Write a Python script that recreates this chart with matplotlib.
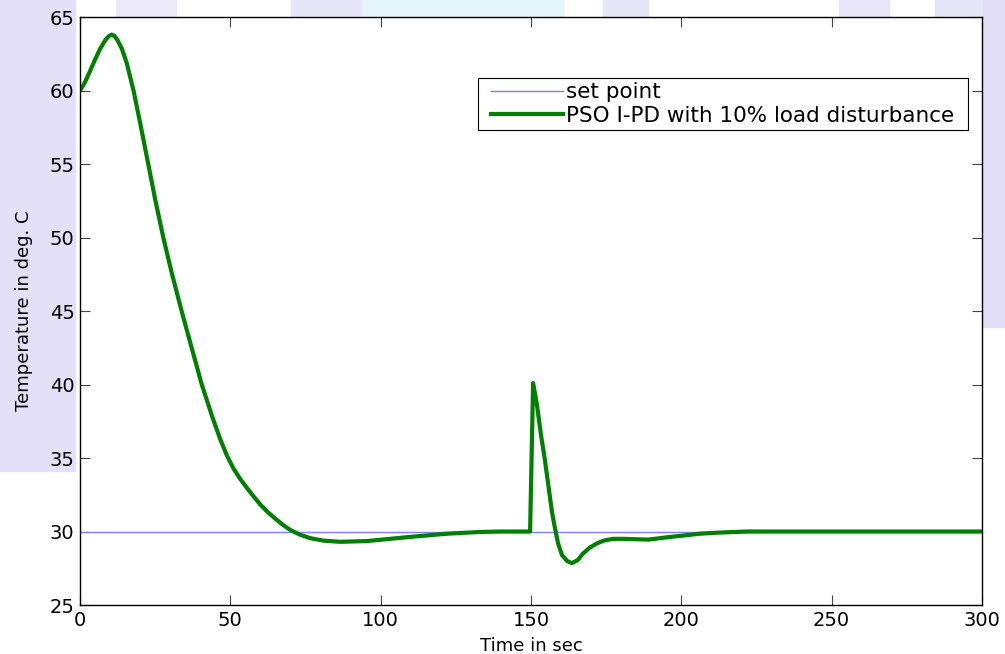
import matplotlib
matplotlib.use("Agg")
import matplotlib.pyplot as plt
from matplotlib.patches import Rectangle

time = [0, 1.5, 3.3, 5, 6.6, 8.5, 9.6, 10.5, 11.4, 12.4, 13.9, 15.5, 17.8, 20, 22.7,
        25, 27.7, 30.5, 33.8, 37, 40.5, 44, 46.6, 48.8, 51, 53.2, 55.4, 57.5, 59.9,
        62.3, 64.8, 67.5, 70, 73, 76.5, 81, 86.5, 95.4, 103, 110.7, 122, 133, 140,
        149.7, 150.7, 152, 153.3, 154.6, 156, 157, 158, 159, 160.3, 162, 163.6,
        165.5, 167.3, 169.5, 172, 174.5, 177.3, 181, 189, 195, 199.5, 206, 212.8,
        222, 300]
temp = [60.0, 60.5, 61.3, 62.1, 62.8, 63.45, 63.7, 63.8, 63.72, 63.45, 62.85, 61.9,
        60.0, 57.8, 55.0, 52.6, 50.0, 47.6, 45.0, 42.6, 40.0, 37.8, 36.3, 35.2,
        34.3, 33.6, 33.0, 32.45, 31.85, 31.35, 30.9, 30.45, 30.1, 29.8, 29.55,
        29.38, 29.3, 29.35, 29.5, 29.65, 29.85, 29.97, 30.0,
        30.0, 40.1, 38.6, 36.6, 34.9, 32.8, 31.3, 30.2, 29.2, 28.4, 28.0, 27.85,
        28.05, 28.5, 28.9, 29.2, 29.4, 29.5, 29.5, 29.45, 29.6, 29.7, 29.85, 29.93,
        30.0, 30.0]
setpoint_t = [0, 300]
setpoint = [30, 30]

xticks = [0, 50, 100, 150, 200, 250, 300]
yticks = [25, 30, 35, 40, 45, 50, 55, 60, 65]

plt.rcParams['font.family'] = ['DejaVu Sans']

fig = plt.figure(figsize=(10.05, 6.54), dpi=100)

# faint watermark bands behind the plot
bands = [(0, 0.28, 0.075, 0.72, '#e3e0f7'), (0.115, 0.974, 0.06, 0.026, '#eceaf9'),
         (0.29, 0.974, 0.07, 0.026, '#e6e4f7'), (0.36, 0.974, 0.2, 0.026, '#e3f5fa'),
         (0.6, 0.974, 0.045, 0.026, '#e6e4f7'), (0.835, 0.974, 0.05, 0.026, '#e8e6f8'),
         (0.93, 0.974, 0.05, 0.026, '#e6e4f7'), (0.978, 0.5, 0.022, 0.5, '#e0ddf5')]
for x0, y0, w, h, c in bands:
    fig.patches.append(Rectangle((x0, y0), w, h, transform=fig.transFigure,
                                 color=c, zorder=0))

ax = fig.add_axes([0.0796, 0.0749, 0.8975, 0.8991])
ax.set_zorder(2)
ax.plot(setpoint_t, setpoint, color='#7f7fff', linewidth=1.0, label='set point')
ax.plot(time, temp, color='#008000', linewidth=3.0,
        label='PSO I-PD with 10% load disturbance')

ax.set_xlim(0, 300)
ax.set_ylim(25, 65)
ax.set_xticks(xticks)
ax.set_yticks(yticks)
ax.tick_params(direction='in', length=7, width=0.8, top=True, right=True,
               labelsize=14, pad=4, color='#444444')
for s in ax.spines.values():
    s.set_linewidth(1.0)

ax.set_xlabel('Time in sec', fontsize=13, labelpad=5)
ax.set_ylabel('Temperature in deg. C', fontsize=13, labelpad=12)

leg = ax.legend(loc='upper right', bbox_to_anchor=(0.9743, 0.896), borderaxespad=0,
                fontsize=15.5, frameon=False,
                handlelength=3.35, handletextpad=0.15, labelspacing=0.15,
                borderpad=0.2)

# matlab style legend box: wider padding left/right than top/bottom
fig.canvas.draw()
bb = leg.get_window_extent().transformed(fig.transFigure.inverted())
padx = 9 / 1005
box = Rectangle((bb.x0 - padx, bb.y0), bb.width + 2 * padx, bb.height,
                transform=fig.transFigure, facecolor='white', edgecolor='black',
                linewidth=0.8, zorder=4.5)
ax.add_artist(box)

fig.savefig('out.png', dpi=100)
